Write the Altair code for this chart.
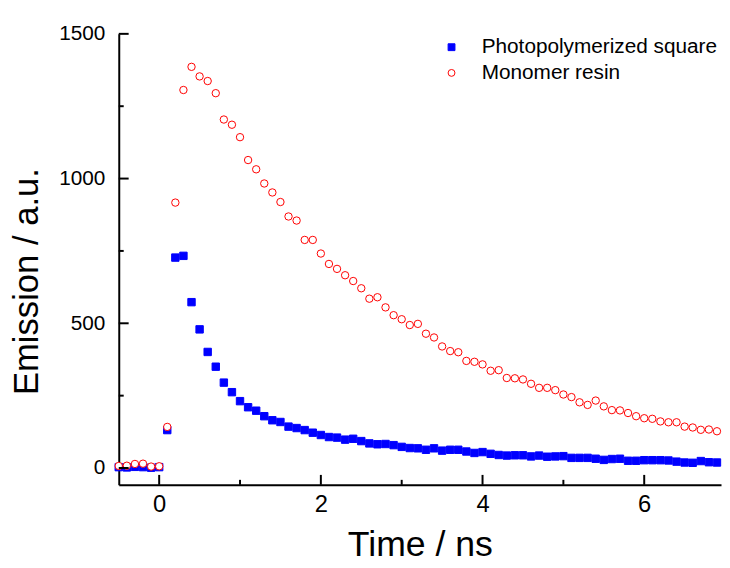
import altair as alt
import pandas as pd

# ---- data ----
time_ns = [-0.5, -0.4, -0.3, -0.2, -0.1, 0.0, 0.1, 0.2, 0.3, 0.4, 0.5, 0.6, 0.7, 0.8, 0.9,
           1.0, 1.1, 1.2, 1.3, 1.4, 1.5, 1.6, 1.7, 1.8, 1.9, 2.0, 2.1, 2.2, 2.3, 2.4,
           2.5, 2.6, 2.7, 2.8, 2.9, 3.0, 3.1, 3.2, 3.3, 3.4, 3.5, 3.6, 3.7, 3.8, 3.9,
           4.0, 4.1, 4.2, 4.3, 4.4, 4.5, 4.6, 4.7, 4.8, 4.9, 5.0, 5.1, 5.2, 5.3, 5.4,
           5.5, 5.6, 5.7, 5.8, 5.9, 6.0, 6.1, 6.2, 6.3, 6.4, 6.5, 6.6, 6.7, 6.8, 6.9]

photopolymerized = [3, 2, 4, 3, 1, 3, 131, 727, 733, 573, 479, 401, 350, 295, 262,
                    231, 210, 198, 179, 165, 159, 143, 138, 131, 122, 114, 107, 105, 98, 101,
                    93, 85, 82, 83, 79, 73, 69, 68, 63, 68, 60, 63, 63, 57, 52,
                    55, 49, 45, 43, 44, 44, 40, 43, 39, 40, 41, 35, 35, 35, 32,
                    28, 31, 32, 25, 25, 27, 27, 27, 26, 22, 19, 18, 24, 20, 19]

monomer = [7, 8, 14, 15, 5, 6, 142, 917, 1306, 1386, 1353, 1337, 1295, 1204, 1186,
           1143, 1064, 1032, 983, 952, 919, 869, 855, 788, 788, 741, 705, 688, 666, 646,
           621, 585, 590, 555, 528, 514, 494, 498, 464, 451, 420, 404, 400, 370, 367,
           358, 336, 338, 311, 310, 306, 291, 277, 277, 269, 254, 245, 227, 218, 233,
           213, 200, 199, 190, 179, 172, 170, 161, 158, 158, 143, 140, 132, 133, 127]

series_names = ["Photopolymerized square", "Monomer resin"]
series_stroke = ["#0000ff", "#ff0000"]
series_fill = ["#0000ff", "#ffffff"]
series_shape = ["square", "circle"]

x_major = [0, 2, 4, 6]
x_minor = [1, 3, 5]
y_major = [0, 500, 1000, 1500]
y_minor = [250, 750, 1250]

x_domain = [-0.5, 6.95]
y_domain = [-58, 1500]

W, H = 609, 456
FONT = "Liberation Sans"

n = len(time_ns)
df = pd.DataFrame({
    "time": time_ns + time_ns,
    "emission": photopolymerized + monomer,
    "series": [series_names[0]] * n + [series_names[1]] * n,
})

xs = alt.Scale(domain=x_domain, nice=False, zero=False)
ys = alt.Scale(domain=y_domain, nice=False, zero=False)

x_axis = alt.Axis(values=x_major, title="Time / ns", titleFontSize=36,
                  titleFont=FONT, titleFontWeight="normal", titleBaseline="alphabetic",
                  titleY=72, labelFontSize=24, labelPadding=8, format="d")
y_axis = alt.Axis(values=y_major, title="Emission / a.u.", titleFontSize=35,
                  titleFont=FONT, titleFontWeight="normal", titleAngle=270,
                  titleX=-93, titleY=250, titleAlign="center", titleBaseline="middle",
                  labelFontSize=21, labelPadding=14, format="d")

leg = alt.Legend(
    title=None, orient="none", legendX=326, legendY=3,
    labelFont=FONT, labelFontSize=21, labelColor="black", labelLimit=0,
    symbolSize=48, symbolStrokeWidth=1, rowPadding=4, labelOffset=20, padding=0,
)

points = alt.Chart(df).mark_point(strokeWidth=1, opacity=1, fillOpacity=1, size=56).encode(
    x=alt.X("time:Q", scale=xs, axis=x_axis),
    y=alt.Y("emission:Q", scale=ys, axis=y_axis),
    stroke=alt.Stroke("series:N", scale=alt.Scale(domain=series_names, range=series_stroke), legend=leg),
    fill=alt.Fill("series:N", scale=alt.Scale(domain=series_names, range=series_fill), legend=leg),
    shape=alt.Shape("series:N", scale=alt.Scale(domain=series_names, range=series_shape), legend=leg),
)

# inward ticks, drawn through the same scales
xt_major = alt.Chart(pd.DataFrame({"time": x_major})).mark_rule(color="black", strokeWidth=2).encode(
    x=alt.X("time:Q", scale=xs, axis=x_axis), y=alt.value(H), y2=alt.value(H - 10))
xt_minor = alt.Chart(pd.DataFrame({"time": x_minor})).mark_rule(color="black", strokeWidth=2).encode(
    x=alt.X("time:Q", scale=xs, axis=x_axis), y=alt.value(H), y2=alt.value(H - 5))
yt_major = alt.Chart(pd.DataFrame({"emission": y_major})).mark_rule(color="black", strokeWidth=2).encode(
    y=alt.Y("emission:Q", scale=ys, axis=y_axis), x=alt.value(0), x2=alt.value(10))
yt_minor = alt.Chart(pd.DataFrame({"emission": y_minor})).mark_rule(color="black", strokeWidth=2).encode(
    y=alt.Y("emission:Q", scale=ys, axis=y_axis), x=alt.value(0), x2=alt.value(5))

chart = alt.layer(points, xt_major, xt_minor, yt_major, yt_minor).properties(
    width=W, height=H,
    autosize=alt.AutoSizeParams(type="none"),
    padding={"left": 112, "top": 23, "right": 1, "bottom": 81},
).configure(font=FONT).configure_view(stroke=None).configure_axis(
    grid=False, ticks=False, domainColor="black", domainWidth=2,
    labelFont=FONT, labelColor="black", titleColor="black",
)

chart.save("out.html", embed_options={"renderer": "svg", "actions": False})
